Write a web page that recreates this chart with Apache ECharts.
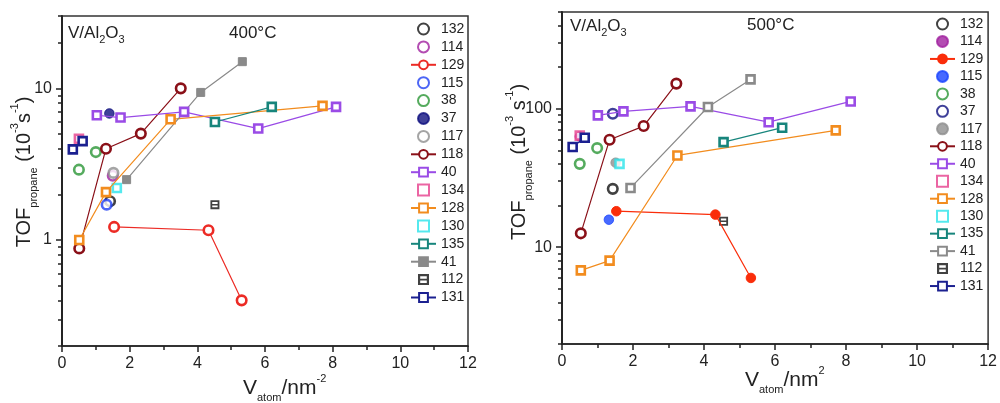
<!DOCTYPE html>
<html><head><meta charset="utf-8">
<script src="https://cdn.jsdelivr.net/npm/echarts@6/dist/echarts.min.js"></script>
<style>html,body{margin:0;padding:0;background:#fff}#c{width:1000px;height:403px}</style>
</head><body><div id="c"></div>
<script>
// ---------- categories / ticks ----------
const ids = ['132','114','129','115','38','37','117','118','40','134','128','130','135','41','112','131'];
const xTicks = [0, 2, 4, 6, 8, 10, 12];
const yLabels400 = [1, 10];
const yMinor400 = [0.2,0.3,0.4,0.5,0.6,0.7,0.8,0.9,2,3,4,5,6,7,8,9,20,30];
const yLabels500 = [10, 100];
const yMinor500 = [2,3,4,5,6,7,8,9,20,30,40,50,60,70,80,90,200,300,400,500];

// ---------- 400 °C data [V_atom, TOF] ----------
const t400_132 = [[1.42, 1.80]];
const t400_114 = [[1.50, 2.65]];
const t400_129 = [[1.54, 1.22], [4.33, 1.16], [5.31, 0.40]];
const t400_115 = [[1.32, 1.71]];
const t400_38  = [[0.50, 2.91], [1.00, 3.80]];
const t400_37  = [[1.40, 6.83]];
const t400_117 = [[1.52, 2.77]];
const t400_118 = [[0.51, 0.88], [1.30, 4.00], [2.33, 5.03], [3.51, 10.0]];
const t400_40  = [[1.03, 6.65], [1.73, 6.42], [3.61, 7.00], [5.80, 5.43], [8.10, 7.55]];
const t400_134 = [[0.50, 4.65]];
const t400_128 = [[0.51, 1.00], [1.30, 2.07], [3.21, 6.25], [7.70, 7.67]];
const t400_130 = [[1.62, 2.20]];
const t400_135 = [[4.52, 6.00], [6.20, 7.55]];
const t400_41  = [[1.91, 2.50], [4.10, 9.40], [5.33, 15.0]];
const t400_112 = [[4.52, 1.71]];
const t400_131 = [[0.32, 3.96], [0.61, 4.49]];

// ---------- 500 °C data [V_atom, TOF] ----------
const t500_132 = [[1.43, 26.4]];
const t500_114 = [[0.50, 63.0]];
const t500_129 = [[1.53, 18.2], [4.32, 17.2], [5.32, 6.0]];
const t500_115 = [[1.32, 15.8]];
const t500_38  = [[0.50, 40.0], [0.99, 52.0]];
const t500_37  = [[1.43, 92.0]];
const t500_117 = [[1.51, 40.8]];
const t500_118 = [[0.53, 12.6], [1.34, 59.8], [2.30, 75.0], [3.22, 152]];
const t500_40  = [[1.01, 89.6], [1.73, 95.7], [3.62, 104], [5.82, 80.0], [8.13, 113]];
const t500_134 = [[0.50, 64.0]];
const t500_128 = [[0.53, 6.8], [1.34, 8.0], [3.25, 46.0], [7.71, 69.8]];
const t500_130 = [[1.62, 40.0]];
const t500_135 = [[4.55, 57.4], [6.20, 73.0]];
const t500_41  = [[1.93, 26.8], [4.11, 103], [5.31, 163]];
const t500_112 = [[4.55, 15.4]];
const t500_131 = [[0.30, 52.9], [0.64, 61.8]];

const data400 = {'132':t400_132,'114':t400_114,'129':t400_129,'115':t400_115,'38':t400_38,'37':t400_37,'117':t400_117,'118':t400_118,'40':t400_40,'134':t400_134,'128':t400_128,'130':t400_130,'135':t400_135,'41':t400_41,'112':t400_112,'131':t400_131};
const data500 = {'132':t500_132,'114':t500_114,'129':t500_129,'115':t500_115,'38':t500_38,'37':t500_37,'117':t500_117,'118':t500_118,'40':t500_40,'134':t500_134,'128':t500_128,'130':t500_130,'135':t500_135,'41':t500_41,'112':t500_112,'131':t500_131};

// ---------- styles ----------
const FONT = 'Liberation Sans, Arial, sans-serif';
const SQ = 'path://M0,0H10V10H0Z';
const P112 = 'path://M0,0H10V10H0Z M2,2V4.2H8V2Z M2,5.8V8H8V5.8Z';
const colors = {'132':'#111111','114':'#a0209f','129':'#ec2b25','115':'#2040f2','38':'#2b9636','37':'#0f1080',
  '117':'#8f8f8f','118':'#8a1018','40':'#9a4be6','134':'#e63f8c','128':'#f28c1e','130':'#2ae4ea','135':'#17857c',
  '41':'#8a8a8a','112':'#111111','131':'#1b2090'};
const col500 = Object.assign({}, colors, {'129':'#fa2d0a','115':'#1a45ff'});
const symbols = {'40':SQ,'134':SQ,'128':SQ,'130':SQ,'135':SQ,'41':SQ,'131':SQ,'112':P112};
const lined = {'129':1,'118':1,'40':1,'128':1,'135':1,'41':1,'131':1};
const filled400 = {'37':1,'41':1};
const filled500 = {'114':1,'129':1,'115':1,'117':1};

function makeSeries(prefix, data, cols, filled, gi) {
  return ids.map(id => {
    const c = cols[id];
    const sym = symbols[id] || 'circle';
    const isFilled = !!filled[id];
    const is112 = id === '112';
    return {
      name: prefix + id,
      type: lined[id] ? 'line' : 'scatter',
      xAxisIndex: gi, yAxisIndex: gi * 2,
      data: data[id],
      symbol: sym,
      symbolKeepAspect: true,
      symbolSize: is112 ? 9 : (sym === 'circle' ? 9.5 : 8),
      showSymbol: true,
      itemStyle: is112 ? {color: c, borderWidth: 0}
        : {color: isFilled ? c : '#ffffff', borderColor: c, borderWidth: isFilled ? 1 : 2.6},
      lineStyle: {color: c, width: 1.2},
      emphasis: {disabled: true},
      animation: false
    };
  });
}

function xAxisCfg(gi) {
  return {
    type: 'value', gridIndex: gi, min: 0, max: 12, interval: 2, position: 'bottom',
    axisLine: {show: true, lineStyle: {color: '#222', width: 1.6}},
    axisTick: {show: true, length: 6, lineStyle: {color: '#222', width: 1.5}},
    minorTick: {show: true, splitNumber: 2, length: 4, lineStyle: {color: '#222', width: 1.5}},
    axisLabel: {fontSize: 16, color: '#222', fontFamily: FONT, margin: 10},
    splitLine: {show: false}
  };
}
function yAxesCfg(gi, min, max, labels, minor) {
  return [{
    type: 'log', logBase: 10, gridIndex: gi, min, max, position: 'left',
    axisLine: {show: true, lineStyle: {color: '#222', width: 1.6}},
    axisTick: {show: true, length: 6, customValues: labels, lineStyle: {color: '#222', width: 1.5}},
    axisLabel: {fontSize: 16, color: '#222', fontFamily: FONT, margin: 10, customValues: labels},
    splitLine: {show: false}
  }, {
    type: 'log', logBase: 10, gridIndex: gi, min, max, position: 'left', offset: 0,
    axisLine: {show: true, lineStyle: {color: '#222', width: 1.6}},
    axisTick: {show: true, length: 4, customValues: minor, lineStyle: {color: '#222', width: 1.5}},
    axisLabel: {show: false, customValues: minor},
    splitLine: {show: false}
  }];
}

function legendCfg(prefix, left, top, gap) {
  return {
    orient: 'vertical', left, top, padding: 0, itemWidth: 25, itemHeight: 11, itemGap: gap,
    selectedMode: false, symbolKeepAspect: true,
    data: ids.map(i => prefix + i),
    formatter: n => n.slice(1),
    textStyle: {fontSize: 14, color: '#222', fontFamily: FONT, lineHeight: 14}
  };
}

const mainRich = (fs) => ({
  b: {fontSize: fs, fontFamily: FONT, fill: '#222', lineHeight: 30},
  sub: {fontSize: 11, fontFamily: FONT, fill: '#222', verticalAlign: 'bottom', lineHeight: 11},
  sup: {fontSize: 11, fontFamily: FONT, fill: '#222', verticalAlign: 'top', lineHeight: 11}
});
const smallRich = {
  a: {fontSize: 17, fontFamily: FONT, fill: '#222', lineHeight: 24},
  s: {fontSize: 11, fontFamily: FONT, fill: '#222', verticalAlign: 'bottom', lineHeight: 11}
};

function txt(x, y, text, rich, rot) {
  return {type: 'text', x, y, rotation: rot || 0, z: 100,
    style: {text, rich, align: rot ? 'center' : 'left', verticalAlign: 'middle'}};
}

const chart = echarts.init(document.getElementById('c'), null, {renderer: 'canvas'});
chart.setOption({
  animation: false,
  backgroundColor: '#fff',
  grid: [
    {left: 62, top: 16, width: 406, height: 330, show: true, borderColor: '#333', borderWidth: 1.5, backgroundColor: 'transparent'},
    {left: 562, top: 12, width: 430, height: 332, show: true, borderColor: '#333', borderWidth: 1.5, backgroundColor: 'transparent'}
  ],
  xAxis: [xAxisCfg(0), xAxisCfg(1)],
  yAxis: [].concat(yAxesCfg(0, 0.2, 30, yLabels400, yMinor400), yAxesCfg(1, 2, 500, yLabels500, yMinor500)),
  legend: [legendCfg('L', 410, 22, 3.9), legendCfg('R', 929, 17, 3.47)],
  series: [].concat(makeSeries('L', data400, colors, filled400, 0), makeSeries('R', data500, col500, filled500, 1)),
  graphic: [
    txt(68, 33, '{a|V/Al}{s|2}{a|O}{s|3}', smallRich),
    txt(229, 33, '{a|400°C}', smallRich),
    txt(570, 26, '{a|V/Al}{s|2}{a|O}{s|3}', smallRich),
    txt(747, 25, '{a|500°C}', smallRich),
    txt(243, 388, '{b|V}{sub|atom}{b|/nm}{sup|-2}', mainRich(21)),
    txt(745, 380, '{b|V}{sub|atom}{b|/nm}{sup|2}', mainRich(21)),
    txt(24, 172, '{b|TOF}{sub|propane}{b| (10}{sup|-3}{b|s}{sup|-1}{b|)}', mainRich(20), Math.PI / 2),
    txt(519, 162, '{b|TOF}{sub|propane}{b| (10}{sup|-3}{b| s}{sup|-1}{b|)}', mainRich(20), Math.PI / 2)
  ]
});
</script></body></html>
